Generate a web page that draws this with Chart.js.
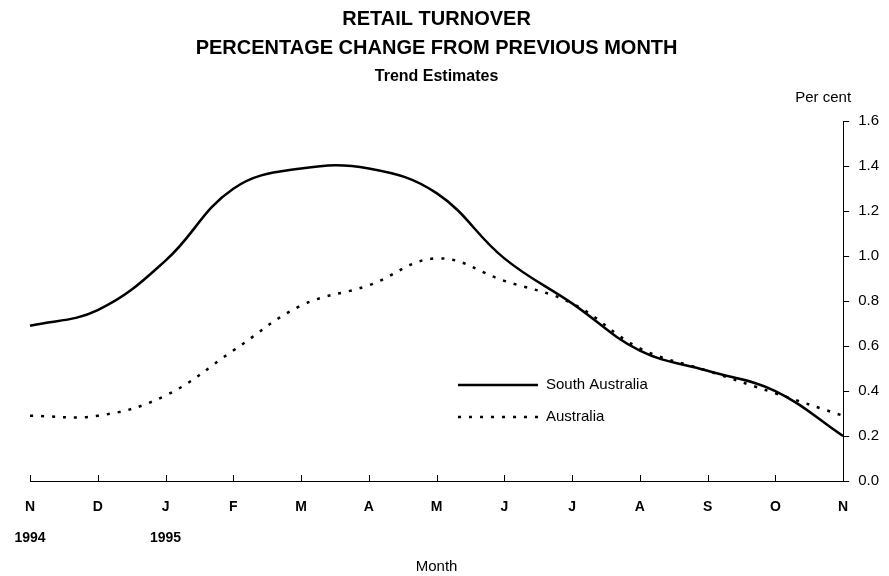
<!DOCTYPE html>
<html>
<head>
<meta charset="utf-8">
<title>Retail turnover</title>
<script src="https://cdn.jsdelivr.net/npm/chart.js@4/dist/chart.umd.min.js"></script>
<style>
  html, body { margin: 0; padding: 0; background: #fff; }
  #wrap { width: 889px; height: 576px; position: relative; }
</style>
</head>
<body>
<div id="wrap"><canvas id="retailChart"></canvas></div>
<script>
// donnees
const months = ['N', 'D', 'J', 'F', 'M', 'A', 'M', 'J', 'J', 'A', 'S', 'O', 'N'];
const years = ['1994', '', '1995', '', '', '', '', '', '', '', '', '', ''];
const southAustralia = [0.69, 0.76, 0.98, 1.30, 1.39, 1.39, 1.28, 0.99, 0.79, 0.58, 0.49, 0.40, 0.20];
const australia = [0.29, 0.29, 0.38, 0.58, 0.78, 0.87, 0.99, 0.89, 0.79, 0.59, 0.49, 0.39, 0.29];
const yTicks = [0, 0.2, 0.4, 0.6, 0.8, 1.0, 1.2, 1.4, 1.6];

const FONT = '"Liberation Sans", Arial, sans-serif';

// ticks vers le haut, legende et "Per cent"
const extras = {
    id: 'extras',
    afterDraw(chart) {
        const ctx = chart.ctx;
        const xs = chart.scales.x;
        const ys = chart.scales.y;
        ctx.save();
        ctx.strokeStyle = '#000';
        ctx.lineWidth = 1;
        xs.ticks.forEach((t, i) => {
            const px = Math.round(xs.getPixelForTick(i)) + 0.5;
            ctx.beginPath();
            ctx.moveTo(px, xs.top);
            ctx.lineTo(px, xs.top - 6);
            ctx.stroke();
        });

        ctx.fillStyle = '#000';
        ctx.font = '15px ' + FONT;
        ctx.textAlign = 'center';
        ctx.textBaseline = 'middle';
        ctx.fillText('Per cent', ys.left - 20, 98);

        // legende dans la zone du graphique
        const lx = 458, ly = 385, gap = 32, len = 80;
        ctx.textAlign = 'left';
        chart.data.datasets.forEach((ds, i) => {
            const yy = ly + i * gap;
            ctx.beginPath();
            ctx.lineWidth = ds.borderWidth;
            ctx.setLineDash(ds.borderDash || []);
            ctx.moveTo(lx, yy);
            ctx.lineTo(lx + len, yy);
            ctx.stroke();
            ctx.setLineDash([]);
            ctx.fillText(ds.label, lx + len + 8, yy);
        });
        ctx.restore();
    }
};

new Chart(document.getElementById('retailChart'), {
    type: 'line',
    data: {
        labels: months,
        datasets: [{
            label: 'South Australia',
            data: southAustralia,
            borderColor: '#000',
            borderWidth: 2.5,
            pointRadius: 0,
            tension: 0.4,
            fill: false
        }, {
            label: 'Australia',
            data: australia,
            borderColor: '#000',
            borderWidth: 2.5,
            borderDash: [3, 8],
            pointRadius: 0,
            tension: 0.4,
            fill: false
        }]
    },
    options: {
        responsive: true,
        maintainAspectRatio: false,
        animation: false,
        layout: { padding: { left: 30, right: 1, bottom: 0 } },
        plugins: {
            legend: { display: false },
            tooltip: { enabled: false },
            title: {
                display: true,
                fullSize: false,
                text: ['RETAIL TURNOVER', 'PERCENTAGE CHANGE FROM PREVIOUS MONTH'],
                color: '#000',
                font: { family: FONT, size: 20, weight: 'bold', lineHeight: 1.45 },
                padding: { top: 5, bottom: 0 }
            },
            subtitle: {
                display: true,
                fullSize: false,
                text: 'Trend Estimates',
                color: '#000',
                font: { family: FONT, size: 16, weight: 'bold', lineHeight: 1.7 },
                padding: { top: 0, bottom: 31 }
            }
        },
        scales: {
            x: {
                grid: { display: false },
                border: { display: true, color: '#000', width: 1 },
                ticks: {
                    color: '#000',
                    autoSkip: false,
                    maxRotation: 0,
                    padding: 2,
                    font: { family: FONT, size: 14, weight: 'bold', lineHeight: 2.25 },
                    callback: function(value, index) {
                        return years[index] ? [months[index], years[index]] : months[index];
                    }
                },
                title: {
                    display: true,
                    text: 'Month',
                    color: '#000',
                    font: { family: FONT, size: 15 },
                    padding: { top: 2, bottom: 0 }
                }
            },
            y: {
                position: 'right',
                min: 0,
                max: 1.6,
                afterBuildTicks: function(scale) {
                    scale.ticks = yTicks.map(v => ({ value: v }));
                },
                grid: { drawOnChartArea: false, drawTicks: true, tickLength: 6, color: '#000' },
                border: { display: true, color: '#000', width: 1 },
                ticks: {
                    color: '#000',
                    padding: 9,
                    font: { family: FONT, size: 15 },
                    callback: v => Number(v).toFixed(1)
                }
            }
        }
    },
    plugins: [extras]
});
</script>
</body>
</html>
